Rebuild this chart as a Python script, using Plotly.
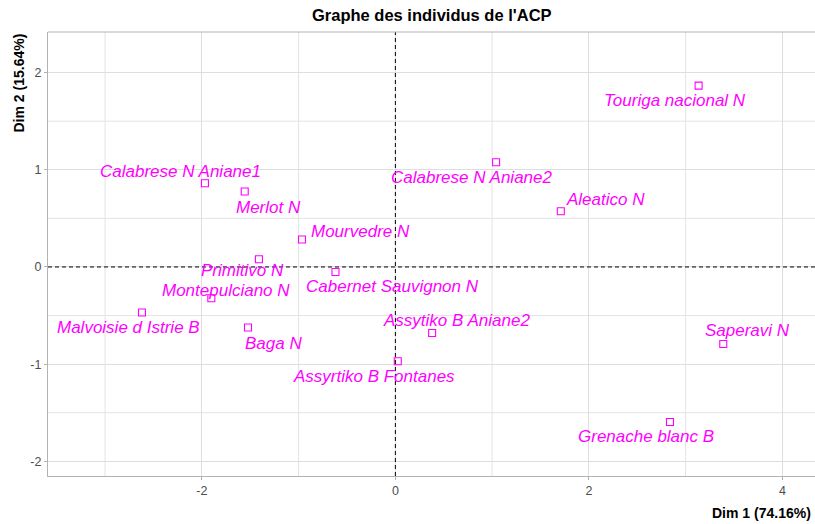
import plotly.graph_objects as go

# ---- data ----
individuals = [
    "Touriga nacional N", "Calabrese N Aniane2", "Aleatico N", "Saperavi N",
    "Assytiko B Aniane2", "Assyrtiko B Fontanes", "Grenache blanc B",
    "Calabrese N Aniane1", "Merlot N", "Mourvedre N", "Primitivo N",
    "Cabernet Sauvignon N", "Montepulciano N", "Malvoisie d Istrie B", "Baga N",
]
dim1 = [3.134, 1.041, 1.710, 3.389, 0.380, 0.025, 2.838,
        -1.968, -1.557, -0.965, -1.410, -0.619, -1.902, -2.619, -1.523]
dim2 = [1.866, 1.077, 0.573, -0.792, -0.679, -0.970, -1.595,
        0.861, 0.776, 0.282, 0.079, -0.051, -0.322, -0.469, -0.623]
x_ticks = [-2, 0, 2, 4]
y_ticks = [-2, -1, 0, 1, 2]
title_text = "Graphe des individus de l'ACP"
x_title = "Dim 1 (74.16%)"
y_title = "Dim 2 (15.64%)"

# ---- label placement (pixel offsets from each point: right, down) ----
label_dx = [-24, -24, 45, 24, 24, -24, -24, -24, 24, 59, -16, 57, 15, -13, 25]
label_dy = [15, 15, -12, -13, -12, 15, 15, -12, 16, -8, 11, 15, -8, 15, 16]

MAG = "#FF00FF"
FONT = "Liberation Sans, Arial, sans-serif"

fig = go.Figure()
fig.add_trace(go.Scatter(
    x=dim1, y=dim2, mode="markers",
    marker=dict(symbol="square-open", size=7, color=MAG, line=dict(width=1.1, color=MAG)),
    hoverinfo="text", text=individuals, showlegend=False,
))

annotations = []
for name, x, y, dx, dy in zip(individuals, dim1, dim2, label_dx, label_dy):
    annotations.append(dict(
        x=x, y=y, xref="x", yref="y", text=name, showarrow=False,
        xshift=dx, yshift=-dy, xanchor="center", yanchor="middle",
        font=dict(family=FONT, size=17, color=MAG, style="italic"),
    ))

# axis titles at the ends of the axes
annotations.append(dict(
    x=1, y=0, xref="paper", yref="paper", text="<b>%s</b>" % x_title,
    showarrow=False, xanchor="right", yanchor="middle", yshift=-37, xshift=-2,
    font=dict(family=FONT, size=14, color="black"),
))
annotations.append(dict(
    x=0, y=1, xref="paper", yref="paper", text="<b>%s</b>" % y_title,
    showarrow=False, xanchor="center", yanchor="top", xshift=-30, textangle=-90,
    font=dict(family=FONT, size=14, color="black"),
))
annotations.append(dict(
    x=0.5, y=1, xref="paper", yref="paper", text="<b>%s</b>" % title_text,
    showarrow=False, xanchor="center", yanchor="middle", yshift=17,
    font=dict(family=FONT, size=16.5, color="black"),
))

shapes = [
    dict(type="line", xref="x", yref="paper", x0=0, x1=0, y0=0, y1=1,
         line=dict(color="black", width=1, dash="4px,3px"), layer="above"),
    dict(type="line", xref="paper", yref="y", x0=0, x1=1, y0=0, y1=0,
         line=dict(color="black", width=1, dash="4px,3px"), layer="above"),
    # top border of the panel
    dict(type="line", xref="paper", yref="paper", x0=0, x1=1, y0=1, y1=1,
         line=dict(color="#B3B3B3", width=1.2), layer="above"),
]
# minor grid lines
for xv in [-3, -1, 1, 3]:
    shapes.append(dict(type="line", xref="x", yref="paper", x0=xv, x1=xv, y0=0, y1=1,
                       line=dict(color="#E3E3E3", width=1), layer="below"))
for yv in [-1.5, -0.5, 0.5, 1.5]:
    shapes.append(dict(type="line", xref="paper", yref="y", x0=0, x1=1, y0=yv, y1=yv,
                       line=dict(color="#E3E3E3", width=1), layer="below"))

axis_common = dict(
    showgrid=True, gridcolor="#DEDEDE", gridwidth=1, zeroline=False,
    showline=True, linecolor="#B3B3B3", linewidth=1.2, mirror=False,
    ticks="outside", ticklen=3, tickcolor="#B3B3B3", tickwidth=1,
    tickfont=dict(family=FONT, size=12.5, color="#4D4D4D"),
)

fig.update_layout(
    width=815, height=524,
    margin=dict(l=48, r=0, t=32, b=48),
    paper_bgcolor="white", plot_bgcolor="white",
    xaxis=dict(range=[-3.59, 4.337], tickvals=x_ticks, ticktext=[str(v) for v in x_ticks], **axis_common),
    yaxis=dict(range=[-2.151, 2.418], tickvals=y_ticks, ticktext=[str(v) for v in y_ticks], **axis_common),
    annotations=annotations, shapes=shapes,
    font=dict(family=FONT),
)

fig.write_html(
    "out.html",
    config={"displayModeBar": False},
    post_script="document.body.style.margin='0';document.body.style.overflow='hidden';",
)
